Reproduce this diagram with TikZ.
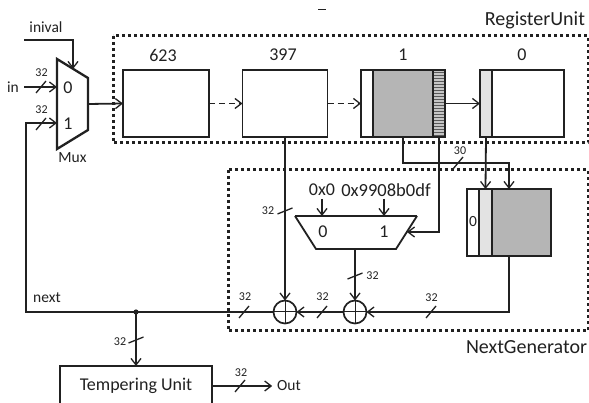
\documentclass[tikz,border=0pt]{standalone}
\usepackage{fontspec}
\setmainfont{Carlito}
\usetikzlibrary{arrows.meta,patterns}
\definecolor{ink}{gray}{0.13}
\tikzset{
  x=1pt,y=-1pt,
  every node/.style={text=ink,inner sep=0pt,outer sep=0pt},
  wire/.style={line width=1.8pt},
  arr/.style={wire,-{Straight Barb[length=6.5pt,width=10pt,line width=1.3pt]}},
  dasharr/.style={arr,dash pattern=on 6pt off 4pt},
  regbox/.style={draw,line width=1.6pt,minimum height=67pt},
  dots/.style={line width=3pt,dash pattern=on 3pt off 3pt},
  huge/.style={font=\fontsize{20}{23}\selectfont},
  big/.style={font=\fontsize{18}{21}\selectfont},
  mid/.style={font=\fontsize{15.5}{18}\selectfont},
  small/.style={font=\fontsize{12}{14}\selectfont},
  shaded/.style={draw,line width=1.6pt,fill=gray!58},
  light/.style={draw,line width=1.6pt,fill=gray!22},
  stripe/.style={draw,line width=1.6pt,preaction={fill=gray!45},pattern=horizontal lines,pattern color=black!65},
  xorc/.style={draw,circle,line width=1.7pt,minimum size=23pt,path picture={
    \draw[line width=1pt] (path picture bounding box.north) -- (path picture bounding box.south);
    \draw[line width=1pt] (path picture bounding box.west) -- (path picture bounding box.east);}},
  buswidth/.style={line width=1.3pt},
}
\newcommand{\busmark}[2]{\draw[buswidth] (#1-5,#2+6) -- (#1+5,#2-6);}
\newcommand{\busflat}[2]{\draw[buswidth] (#1-7.5,#2+3) -- (#1+7.5,#2-3);}
\begin{document}
\begin{tikzpicture}[color=ink]
\clip (0,0) rectangle (589,403);
\fill[white] (0,0) rectangle (589,403);
% unit frames
\draw[dots] (113,36) rectangle (588,143);
\draw[dots] (228,170) rectangle (588,331);
\node[huge,anchor=east] (ru) at (585,20) {RegisterUnit};
\node[huge,anchor=east] (ng) at (587,347) {NextGenerator};
\draw[line width=1pt] (318,10) -- (326,10);
% registers
\node[regbox,minimum width=86pt] (r623) at (166,103.5) {};
\node[regbox,minimum width=85pt] (r397) at (285,103.5) {};
\node[regbox,minimum width=84pt] (r1) at (403,103.5) {};
\node[regbox,minimum width=84pt] (r0) at (522,103.5) {};
\node[shaded,minimum width=60pt,minimum height=67pt] (r1m) at (403,103.5) {};
\node[stripe,minimum width=12pt,minimum height=67pt] (r1l) at (439,103.5) {};
\node[light,minimum width=12pt,minimum height=67pt] (r0h) at (486,103.5) {};
\node[big] (l623) at (163,55) {623};
\node[big] (l397) at (283,55) {397};
\node[big] (l1) at (403,55) {1};
\node[big] (l0) at (522,55) {0};
% input mux
\coordinate (ma) at (57,59);
\coordinate (mb) at (88,78);
\coordinate (mc) at (88,130);
\coordinate (md) at (57,149);
\coordinate (mout) at (88,104);
\coordinate (min0) at (57,87);
\coordinate (min1) at (57,123);
\coordinate (mtop) at (73,69);
\draw[line width=2.3pt,line join=miter] (ma) -- (mb) -- (mc) -- (md) -- cycle;
\node[big] (m0) at (68,88) {0};
\node[big] (m1) at (68,124) {1};
\node[mid] (mux) at (72.5,158) {Mux};
\node[mid] (lini) at (46,27) {inival};
\node[mid] (lin) at (13,87.5) {in};
\coordinate (ini0) at (24,40);
\coordinate (in0) at (24,87);
\draw[arr] (ini0) -| (mtop);
\draw[arr] (in0) -- (min0);
\busmark{41}{87}
\node[small] (b1) at (41.5,73) {32};
\busmark{41}{124}
\node[small] (b2) at (41.5,109.5) {32};
\draw[arr] (mout) -- (r623.west);
\draw[dasharr] (r623.east) -- (r397.west);
\draw[dasharr] (r397.east) -- (r1.west);
\draw[arr] (r1.east) -- (r0.west);
% next generator
\node[regbox,minimum width=84pt] (nb) at (509,222.5) {};
\node[shaded,minimum width=59pt,minimum height=67pt] (nbm) at (521.5,222.5) {};
\node[light,minimum width=13pt,minimum height=67pt] (nbh) at (485.5,222.5) {};
\node[mid] (nb0) at (473,222) {0};
\coordinate (ta) at (295,216);
\coordinate (tb) at (417,216);
\coordinate (tc) at (396,249);
\coordinate (td) at (316,249);
\coordinate (tin0) at (322,216);
\coordinate (tin1) at (384,216);
\coordinate (tins) at (407,232);
\coordinate (tout) at (355,249);
\draw[line width=1.8pt,line join=miter] (tb) -- (tc) -- (td) -- (ta);
\draw[line width=2.6pt] (ta) -- (tb);
\node[big] (t0) at (323,232) {0};
\node[big] (t1) at (384,232) {1};
\node[big] (c0) at (322,190) {0x0};
\node[font=\fontsize{18.5}{21}\selectfont] (c1) at (386,190) {0x9908b0df};
\coordinate (c1b) at (384,199);
\coordinate (c0b) at (322,199);
\draw[arr] (c0b) -- (tin0);
\draw[arr] (c1b) -- (tin1);
\node[xorc] (x1) at (285,312) {};
\node[xorc] (x2) at (355,312) {};
% links
\coordinate (t30) at (509,163);
\draw[arr] (r1.south) |- (t30) -- (nb.north);
\draw[arr] (r0h.south) -- (nbh.north);
\draw[arr] (r1l.south) |- (tins);
\draw[arr] (r397.south) -- (x1.north);
\draw[arr] (tout) -- (x2.north);
\draw[arr] (nb.south) |- (x2.east);
\draw[arr] (x2.west) -- (x1.east);
\busmark{458}{163}
\node[small] (b30) at (460,151) {30};
\busflat{285}{211}
\node[small] (b3) at (268,211) {32};
\busflat{355}{276}
\node[small] (b4) at (372.5,275.5) {32};
\busmark{431}{312}
\node[small] (b5) at (431.5,297.5) {32};
\busmark{322}{312}
\node[small] (b6) at (322.5,297) {32};
\busmark{244}{312}
\node[small] (b7) at (245,297) {32};
% feedback
\coordinate (fbc) at (136,312);
\coordinate (fbl) at (26,312);
\fill (fbc) circle (2.6pt);
\draw[arr] (x1.west) -- (fbl) |- (min1);
\node[mid] (nx) at (47,297.5) {next};
% tempering
\node[draw,line width=1.6pt,minimum width=152pt,minimum height=40pt] (tu) at (136,386) {};
\node[big] (tut) at (136,386) {Tempering Unit};
\draw[arr] (fbc) -- (tu.north);
\busflat{136}{340}
\node[small] (b8) at (120,342) {32};
\node[mid,outer sep=5pt] (out) at (289,386) {Out};
\draw[arr] (tu.east) -- (out.west);
\busmark{240}{386}
\node[small] (b9) at (241,372.5) {32};
\end{tikzpicture}
\end{document}
